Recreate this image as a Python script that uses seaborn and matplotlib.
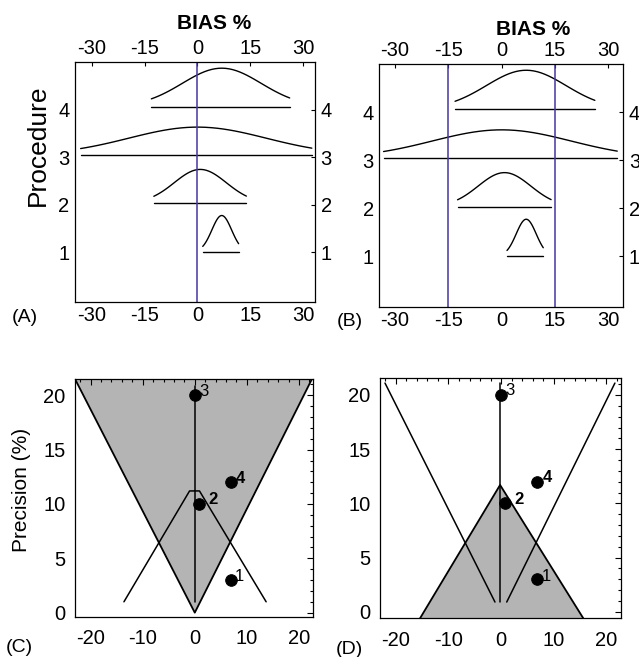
import numpy as np
import pandas as pd
import matplotlib
matplotlib.use('Agg')
import matplotlib.pyplot as plt
from matplotlib.ticker import MultipleLocator
import seaborn as sns

# procedures 1..4 : bias (%) and precision (%)
procedure = [1, 2, 3, 4]
bias = [6.9, 0.8, 0.0, 6.9]
precision = [3, 10, 20, 12]

# bias distributions drawn in panels A and B
curve_sd = [2.8, 7.4, 19.5, 11.2]
curve_peak = [0.77, 0.71, 0.59, 0.81]
line_y = [1.0, 2.03, 3.04, 4.06]
range_lo = [1.5, -12.4, -33.2, -13.1]
range_hi = [11.7, 13.9, 32.5, 26.2]

limits_a = [0]
limits_b = [-15, 15]

# panel C : acceptance region + tent
c_shade_x = [-23.0, 0.0, 22.5]
c_shade_y = [21.5, 0.0, 21.5]
c_tent_x = [-13.6, -1.0, 0.9, 13.7]
c_tent_y = [1.0, 11.2, 11.2, 1.0]
c_vert_x = 0.0
c_vert_y = [1.0, 20.9]

# panel D : acceptance triangle + V
d_tri_x = [-15.4, -0.2, 15.6]
d_tri_y = [-0.6, 11.7, -0.6]
d_vleft_x = [-22.05, -1.17]
d_vright_x = [1.06, 21.6]
d_v_y = [21.1, 0.9]
d_vert_x = -0.2
d_vert_y = [0.9, 21.1]

bias_ticks = [-30, -15, 0, 15, 30]
prec_xticks = [-20, -10, 0, 10, 20]
prec_yticks = [0, 5, 10, 15, 20]

point_lbl = {1: (6.5, 2.2, 'normal'), 2: (10, 3, 'bold'), 3: (6.5, 3, 'normal'), 4: (7.2, 3, 'bold')}

sns.set_theme(style='white')
plt.rcParams['font.family'] = ['Liberation Sans', 'DejaVu Sans']
plt.rcParams['axes.edgecolor'] = 'black'
plt.rcParams['axes.linewidth'] = 0.9
plt.rcParams['axes.unicode_minus'] = False
plt.rcParams['text.color'] = 'black'
plt.rcParams['xtick.color'] = 'black'
plt.rcParams['ytick.color'] = 'black'

W, H = 639, 657
fig = plt.figure(figsize=(W / 100, H / 100), dpi=100)

def box(l, t, r, b):
    return fig.add_axes([l / W, 1 - b / H, (r - l) / W, (b - t) / H])

axA = box(75, 62, 315, 302)
axB = box(379.3, 64, 623.3, 306.7)
axC = box(75, 379, 313, 617)
axD = box(380, 378.3, 620.7, 618.3)

blue = '#4636a0'

def bias_panel(ax, xlim, limits):
    for i in range(len(procedure)):
        xs = np.linspace(range_lo[i], range_hi[i], 40)
        ys = line_y[i] + curve_peak[i] * np.exp(-0.5 * ((xs - bias[i]) / curve_sd[i]) ** 2)
        sns.lineplot(x=xs, y=ys, ax=ax, color='black', lw=1.0, sort=False, estimator=None)
        sns.lineplot(x=[range_lo[i], range_hi[i]], y=[line_y[i]] * 2, ax=ax, color='black',
                     lw=1.0, estimator=None)
    for v in limits:
        ax.axvline(v, color=blue, lw=1.1)
    ax.set_xlim(*xlim)
    ax.set_ylim(-0.05, 5.0)
    ax.set_xticks(bias_ticks)
    ax.set_yticks(procedure)
    ax.tick_params(axis='both', labelsize=14.5, direction='in', length=3, width=0.8,
                   top=True, right=True, labeltop=True, labelright=True, colors='black')
    ax.tick_params(axis='x', pad=3)
    ax.tick_params(axis='y', pad=4)
    ax.set_xlabel('')
    ax.set_ylabel('')

bias_panel(axA, (-34.8, 33.4), limits_a)
bias_panel(axB, (-34.4, 34.2), limits_b)
axA.text(0.58, 1.16, 'BIAS %', transform=axA.transAxes, ha='center', va='center',
         fontsize=15, fontweight='bold')
axB.text(0.632, 1.143, 'BIAS %', transform=axB.transAxes, ha='center', va='center',
         fontsize=15, fontweight='bold')
axA.text(-0.155, 0.655, 'Procedure', transform=axA.transAxes, rotation=90,
         ha='center', va='center', fontsize=19)


def prec_panel(ax):
    ax.set_xlim(-23.0, 22.7)
    ax.set_xticks(prec_xticks)
    ax.set_yticks(prec_yticks)
    ax.xaxis.set_minor_locator(MultipleLocator(2))
    ax.yaxis.set_minor_locator(MultipleLocator(1))
    ax.tick_params(which='both', direction='in', top=True, right=True, colors='black', width=0.8)
    ax.tick_params(which='major', length=4, labelsize=14.5)
    ax.tick_params(which='minor', length=2.5)
    ax.tick_params(axis='x', pad=9)
    ax.tick_params(axis='y', pad=7)
    pts = pd.DataFrame({'bias': bias, 'precision': precision})
    sns.scatterplot(data=pts, x='bias', y='precision', ax=ax, color='black', s=70,
                    edgecolor='black', zorder=5)
    for p, b, pr in zip(procedure, bias, precision):
        dx, dy, wt = point_lbl[p]
        ax.annotate(str(p), (b, pr), xytext=(dx, dy), textcoords='offset points',
                    ha='center', va='center', fontsize=12, fontweight=wt, zorder=6)
    ax.set_xlabel('')
    ax.set_ylabel('')

# panel C
axC.fill(c_shade_x, c_shade_y, color='#b4b4b4', lw=0, zorder=0)
sns.lineplot(x=c_shade_x, y=c_shade_y, ax=axC, color='black', lw=1.3, sort=False, estimator=None)
sns.lineplot(x=c_tent_x, y=c_tent_y, ax=axC, color='black', lw=1.1, sort=False, estimator=None)
sns.lineplot(x=[c_vert_x] * 2, y=c_vert_y, ax=axC, color='black', lw=1.1, sort=False, estimator=None)
prec_panel(axC)
axC.set_ylim(-0.4, 21.5)
axC.text(-0.223, 0.534, 'Precision (%)', transform=axC.transAxes, rotation=90,
         ha='center', va='center', fontsize=15)

# panel D
axD.fill(d_tri_x, d_tri_y, color='#b4b4b4', lw=0, zorder=0)
sns.lineplot(x=d_tri_x, y=d_tri_y, ax=axD, color='black', lw=1.3, sort=False, estimator=None)
sns.lineplot(x=d_vleft_x, y=d_v_y, ax=axD, color='black', lw=1.1, sort=False, estimator=None)
sns.lineplot(x=d_vright_x, y=d_v_y[::-1], ax=axD, color='black', lw=1.1, sort=False, estimator=None)
sns.lineplot(x=[d_vert_x] * 2, y=d_vert_y, ax=axD, color='black', lw=1.1, sort=False, estimator=None)
prec_panel(axD)
axD.set_ylim(-0.6, 21.54)

for lbl, x, y in [('(A)', 25, 318), ('(B)', 350, 321), ('(C)', 19, 648), ('(D)', 349, 649)]:
    fig.text(x / W, 1 - y / H, lbl, ha='center', va='center', fontsize=14)

fig.savefig('out.png', dpi=100)
